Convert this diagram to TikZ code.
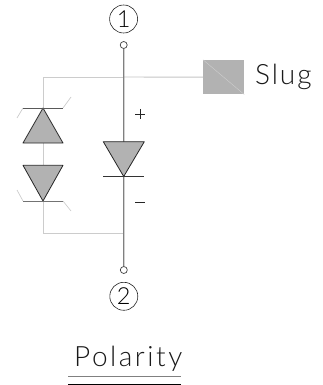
\documentclass[tikz,border=0pt]{standalone}
\usepackage{fontspec}
\setmainfont{Lato Light}[LetterSpace=7]
\newfontfamily\titlefont{Lato Light}[LetterSpace=9]
\usetikzlibrary{calc}
\definecolor{bodygray}{HTML}{B2B2B2}
\definecolor{lead}{HTML}{808080}
\definecolor{lightlead}{HTML}{CCCCCC}
\tikzset{
  x=1pt,y=-1pt,
  term/.style={circle,draw=black!85,line width=.6pt,minimum size=28pt,inner sep=0pt,font=\fontsize{23.5}{23.5}\selectfont},
  pin/.style={circle,draw=black!75,line width=.7pt,minimum size=7pt,inner sep=0pt},
  lbl/.style={inner sep=0pt,anchor=base west,text=black!90},
  mainlead/.style={draw=lead,line width=1.3pt},
  palelead/.style={draw=lightlead,line width=.95pt},
  diode/.style={fill=bodygray,draw=black!85,line width=.8pt,line join=round},
  bar/.style={line width=.9pt},
  tail/.style={draw=lightlead,line width=.7pt}
}
\begin{document}
\begin{tikzpicture}
\useasboundingbox (0,0) rectangle (322,385);
\node[term] (t1) at (123.6,19) {1};
\node[term] (t2) at (123.8,296.3) {2};
\node[pin] (p1) at (123.7,45) {};
\node[pin] (p2) at (123.8,270) {};
\coordinate (jt) at (123.7,77);
\coordinate (jb) at (123.7,233);
\coordinate (ul) at (43,77);
\coordinate (ll) at (43,233);
\coordinate (ua) at (43,108);
\coordinate (ub) at (43,143);
\coordinate (lb) at (43,165.3);
\coordinate (la) at (43,201);
\coordinate (ma) at (123.7,176.5);
\node[fill=bodygray,draw=none,minimum width=41pt,minimum height=34.5pt,inner sep=0pt] (slug) at (223.7,77.2) {};
\draw[draw=bodygray!60!white,line width=.35pt] (slug.north west) -- (slug.south east);
\node[lbl,font=\fontsize{28}{28}\selectfont] (slugt) at (255,85) {Slug};
% leads
\draw[draw=lightlead!90!gray,line width=.9pt] (jt) -- (slug.west);
\draw[palelead] (jt) -- (ul) -- (ua);
\draw[palelead] (ub) -- (lb);
\draw[palelead] (la) -- (ll) -- (jb);
\draw[mainlead] (p1) -- (p2);
% upper left diode
\draw[tail] (23,108) -- (17,118);
\draw[tail] (63,108) -- (71,97);
\draw[diode] (ua) -- (23,143) -- (63,143) -- cycle;
\draw[bar,draw=black!65] (23,108) -- (63,108);
% lower left diode
\draw[tail] (23,201) -- (17,190);
\draw[tail] (63,201) -- (71,211);
\draw[diode] (la) -- (23,165.3) -- (63,165.3) -- cycle;
\draw[bar,draw=black!55] (23,201) -- (63,201);
% main diode
\draw[diode] (ma) -- (103.3,141.7) -- (144.3,141.7) -- cycle;
\draw[bar,draw=black!80] (103.3,176.5) -- (144.3,176.5);
% polarity marks
\node[inner sep=0pt,minimum size=0pt] (plus) at (140,114) {};
\draw[black!85,line width=.6pt] ($(plus)+(-5,0)$) -- ($(plus)+(5,0)$) ($(plus)+(0,-5)$) -- ($(plus)+(0,5)$);
\node[inner sep=0pt,minimum size=0pt] (minus) at (140,202) {};
\draw[black!85,line width=.7pt] ($(minus)+(-5,0)$) -- ($(minus)+(5,0)$);
% title
\node[lbl,font=\titlefont\fontsize{28}{28}\selectfont] (title) at (74,366.5) {Polarity};
\coordinate (u1l) at (68,376.2);
\coordinate (u1r) at (181,376.2);
\coordinate (u2l) at (68,384.2);
\coordinate (u2r) at (181,384.2);
\draw[lead,line width=1.1pt] (u1l) -- (u1r);
\draw[black,line width=1pt] (u2l) -- (u2r);
\end{tikzpicture}
\end{document}
